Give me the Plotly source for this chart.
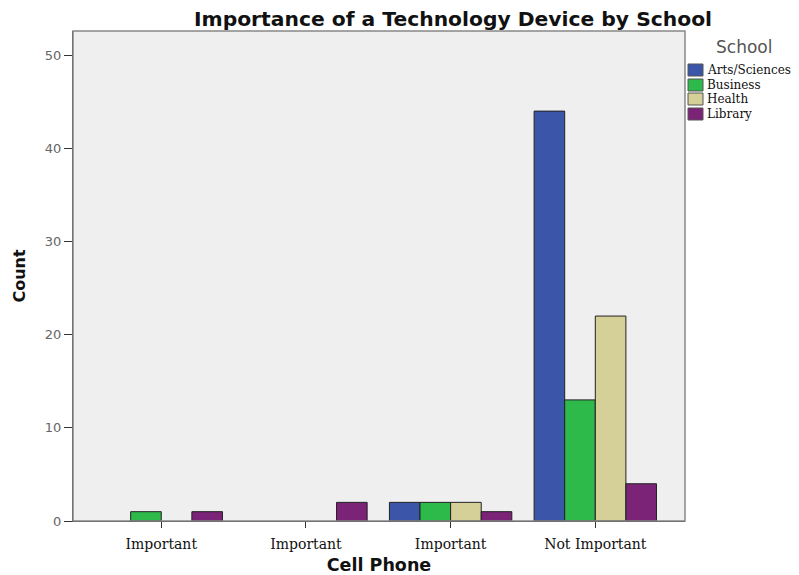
import plotly.graph_objects as go

categories = ["Important", "Important", "Important", "Not Important"]
schools = ["Arts/Sciences", "Business", "Health", "Library"]
values = {
    "Arts/Sciences": [0, 0, 2, 44],
    "Business": [1, 0, 2, 13],
    "Health": [0, 0, 2, 22],
    "Library": [1, 2, 1, 4],
}
colors = {
    "Arts/Sciences": "#3B55A8",
    "Business": "#2DBA4B",
    "Health": "#D5CF98",
    "Library": "#7B2377",
}
y_ticks = [0, 10, 20, 30, 40, 50]

# page body has an 8px default margin; size the figure to end at the window edge
OFF = 8
W, H = 799 - OFF, 575 - OFF
ML, MR, MT, MB = 73 - OFF, 114, 31 - OFF, 54
PW, PH = W - ML - MR, H - MT - MB


def px_x(px):
    return (px - OFF - ML) / PW


def px_y(py):
    return (H - MB - (py - OFF)) / PH


xpos = list(range(len(categories)))

fig = go.Figure()
for s in schools:
    fig.add_trace(go.Bar(
        x=xpos, y=[v if v else None for v in values[s]], name=s,
        marker=dict(color=colors[s], line=dict(color="#222222", width=1)),
        showlegend=False,
    ))

SANS = "DejaVu Sans, Verdana"
SERIF = "DejaVu Serif, Liberation Serif"

fig.update_layout(
    width=W, height=H,
    barmode="group", bargap=0.154, bargroupgap=0,
    paper_bgcolor="white", plot_bgcolor="#EFEFEF",
    margin=dict(l=ML, r=MR, t=MT, b=MB, autoexpand=False),
    title=dict(text="<b>Importance of a Technology Device by School</b>",
               x=(453 - OFF) / W, xanchor="center", xref="container",
               y=1 - 4 / H, yanchor="top", yref="container",
               font=dict(family=SANS, size=20.3, color="#111")),
    xaxis=dict(range=[-0.61, 3.62], tickmode="array", tickvals=xpos, ticktext=categories,
               showgrid=False, zeroline=False, showline=True, linecolor="#333", linewidth=1,
               ticks="outside", ticklen=6, tickcolor="#333", automargin=False,
               ticklabelstandoff=4,
               tickfont=dict(family=SERIF, size=14, color="#111"),
               title=dict(text="<b>Cell Phone</b>", standoff=8,
                          font=dict(family=SANS, size=17.5, color="#111"))),
    yaxis=dict(range=[0, 52.6], tickvals=y_ticks, showgrid=False, zeroline=False,
               showline=True, linecolor="#333", linewidth=1, automargin=False,
               ticks="outside", ticklen=8, tickcolor="#333",
               tickfont=dict(family=SANS, size=13, color="#666"),
               title=dict(text="<b>Count</b>", standoff=15,
                          font=dict(family=SANS, size=16, color="#111"))),
    showlegend=False,
)

# plot frame (top/right)
fig.add_shape(type="rect", xref="paper", yref="paper", x0=0, y0=0, x1=1, y1=1,
              line=dict(color="#888", width=1.5), fillcolor="rgba(0,0,0,0)", layer="above")

# custom legend (compact, like the reference)
fig.add_annotation(text="School", xref="paper", yref="paper", x=px_x(744), y=px_y(47),
                   xanchor="center", yanchor="middle", showarrow=False,
                   font=dict(family=SANS, size=17, color="#555"))
item_y = [70, 85, 99, 114]
for s, cy in zip(schools, item_y):
    fig.add_shape(type="rect", xref="paper", yref="paper",
                  x0=px_x(688), x1=px_x(703), y0=px_y(cy + 6), y1=px_y(cy - 6),
                  fillcolor=colors[s], line=dict(color="#555", width=1))
    fig.add_annotation(text=s, xref="paper", yref="paper", x=px_x(705), y=px_y(cy),
                       xanchor="left", yanchor="middle", showarrow=False,
                       font=dict(family=SERIF, size=12, color="#111"))

fig.write_html("out.html")
